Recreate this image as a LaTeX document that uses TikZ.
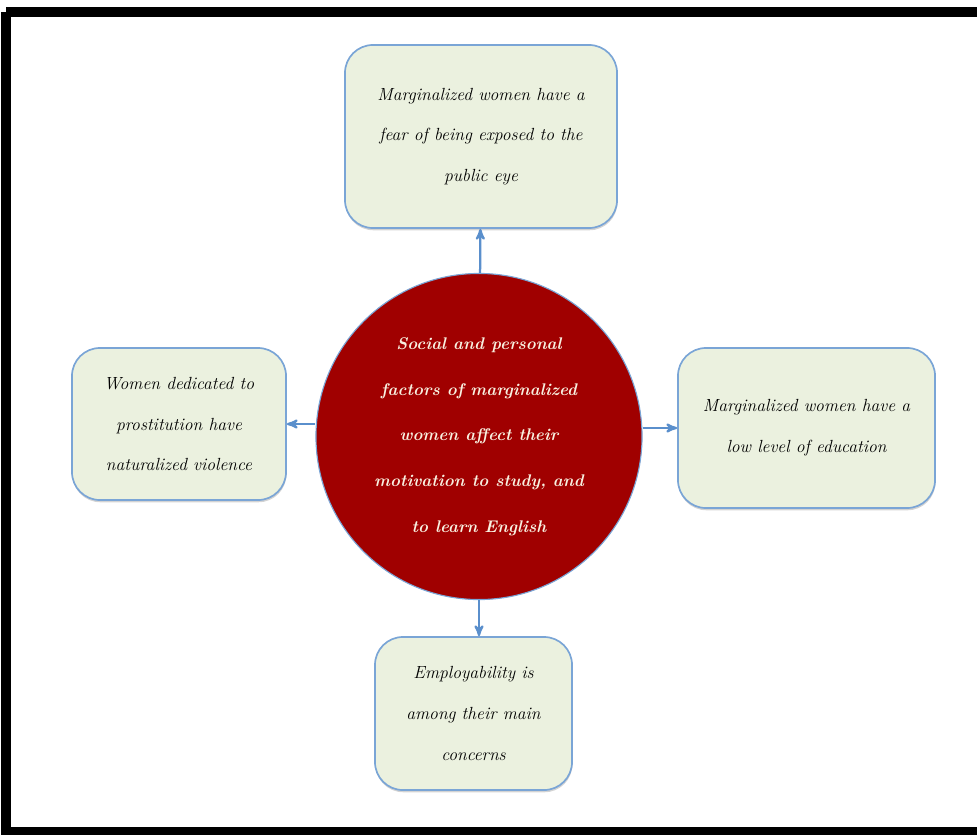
\documentclass[tikz,border=0pt]{standalone}
\usepackage{tikz}
\usetikzlibrary{arrows, shadows}

\definecolor{boxfill}{HTML}{EBF1DF}
\definecolor{boxline}{HTML}{7AA5D6}
\definecolor{arrowblue}{HTML}{5A8FCC}
\definecolor{factorred}{HTML}{A00000}
\definecolor{factortext}{HTML}{F8F0E0}

\begin{document}
\begin{tikzpicture}[->,>=stealth',x=0.025cm,y=-0.025cm,semithick]
\tikzstyle{factor}=[rectangle,rounded corners=0.7cm,fill=boxfill,draw=boxline,line width=1.2pt,
                    align=center,text=black,
                    drop shadow={shadow xshift=0.3pt,shadow yshift=-1.6pt,opacity=0.35}]
\tikzstyle{core}=[circle,fill=factorred,draw=boxline,line width=0.8pt,align=center,text=factortext]
\tikzset{font=\fontsize{12.5}{29}\selectfont\itshape}

        \useasboundingbox (0,0) rectangle (977,834);
        \draw[-,line width=6.5pt] (6,12) -- (990,12) (6,12) -- (6,832) -- (990,832);

        \node[core,minimum size=8.15cm,font=\fontsize{12}{32.5}\selectfont\bfseries\itshape]
             (circ) at (479,436.5) {Social and personal\\ factors of marginalized\\ women affect their\\ motivation to study, and\\ to learn English};

        \node[factor,minimum width=6.8cm,minimum height=4.575cm]    (top)   at (481,136.5) {Marginalized women have a\\ fear of being exposed to the\\ public eye};
        \node[factor,minimum width=5.35cm,minimum height=3.8cm]     (left)  at (179,424)   {Women dedicated to\\ prostitution have\\ naturalized violence};
        \node[factor,minimum width=6.425cm,minimum height=4cm]      (right) at (806.5,428) {Marginalized women have a\\ low level of education};
        \node[factor,minimum width=4.925cm,minimum height=3.825cm]  (bot)   at (473.5,713.5) {Employability is\\ among their main\\ concerns};

        \path[->,color=arrowblue,line width=1.6pt]
        (circ)                      edge node {}   (top)
        (circ.west |- left.east)    edge node {}   (left.east)
        (circ.east |- right.west)   edge node {}   (right.west)
        (circ.south)                edge node {}   (circ.south |- bot.north)
        ; %end path

\end{tikzpicture}
\end{document}
